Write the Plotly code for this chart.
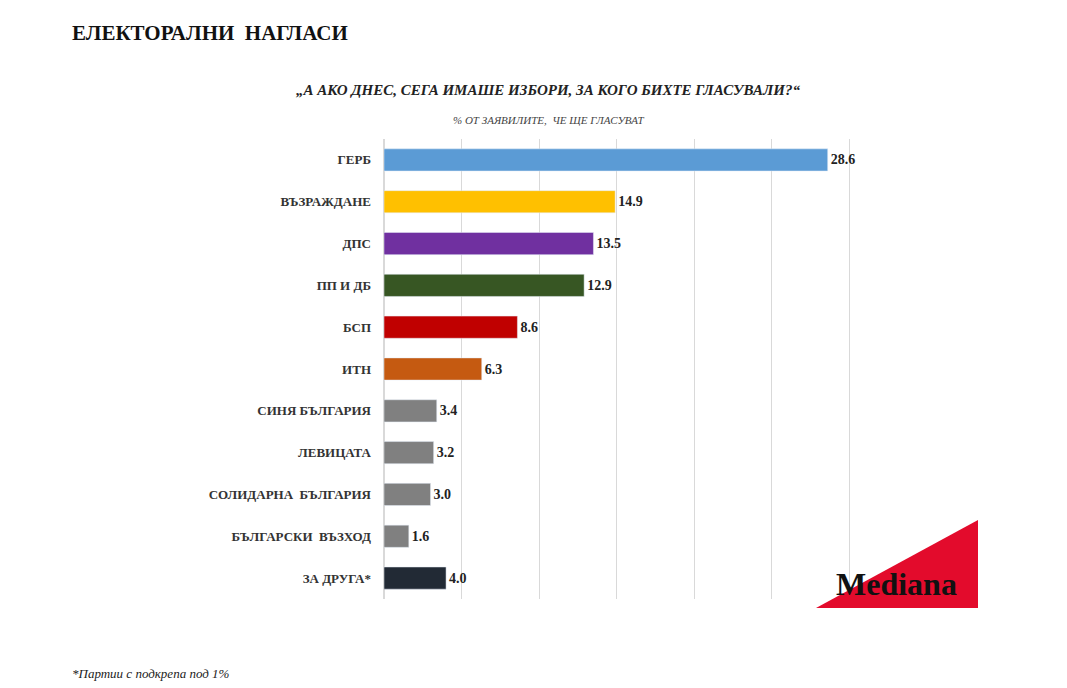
import plotly.graph_objects as go

parties = ["ГЕРБ", "ВЪЗРАЖДАНЕ", "ДПС", "ПП И ДБ", "БСП", "ИТН", "СИНЯ БЪЛГАРИЯ",
           "ЛЕВИЦАТА", "СОЛИДАРНА  БЪЛГАРИЯ", "БЪЛГАРСКИ  ВЪЗХОД", "ЗА ДРУГА*"]
values = [28.6, 14.9, 13.5, 12.9, 8.6, 6.3, 3.4, 3.2, 3.0, 1.6, 4.0]
colors = ["#5B9BD5", "#FFC000", "#7030A0", "#375623", "#C00000", "#C55A11",
          "#808080", "#808080", "#808080", "#808080", "#222A35"]

W, H = 1067, 688
L, R, T, B = 376, 919, 131, 591

def px_x(x):
    return (x - L) / (R - L)

def px_y(y):
    return (B - y) / (B - T)

fig = go.Figure(go.Bar(
    y=parties, x=values, orientation="h", marker_color=colors,
    text=[f"<b>{v:.1f}</b>" for v in values], textposition="outside", cliponaxis=False,
    textfont=dict(family="Liberation Serif", size=14, color="#222"),
))

fig.update_layout(
    width=W, height=H, plot_bgcolor="white", paper_bgcolor="white",
    margin=dict(l=L, r=W - R, t=T, b=H - B),
    showlegend=False, bargap=0.47,
    font=dict(family="Liberation Serif", color="#222"),
    xaxis=dict(range=[0, 35], dtick=5, showticklabels=False, showgrid=True,
               gridcolor="#D9D9D9", zeroline=True, zerolinecolor="#D9D9D9", fixedrange=True),
    yaxis=dict(autorange="reversed", tickfont=dict(size=13, family="Liberation Serif", color="#333"),
               tickvals=parties, ticktext=[f"<b>{p}</b>" for p in parties],
               ticklabelstandoff=12, showline=False),
)

fig.add_shape(type="path", xref="paper", yref="paper",
              path=f"M {px_x(808)} {px_y(600)} L {px_x(970)} {px_y(512)} L {px_x(970)} {px_y(600)} Z",
              fillcolor="#E30B2C", line_width=0, layer="above")

anns = [
    dict(text="<b>ЕЛЕКТОРАЛНИ  НАГЛАСИ</b>", x=px_x(62), y=px_y(25), xanchor="left",
         font=dict(size=21, color="#111")),
    dict(text="<b><i>„А АКО ДНЕС, СЕГА ИМАШЕ ИЗБОРИ, ЗА КОГО БИХТЕ ГЛАСУВАЛИ?“</i></b>",
         x=px_x(540), y=px_y(82), xanchor="center", font=dict(size=15, color="#222")),
    dict(text="<i>% ОТ ЗАЯВИЛИТЕ,  ЧЕ ЩЕ ГЛАСУВАТ</i>", x=px_x(540), y=px_y(112),
         xanchor="center", font=dict(size=11, color="#444")),
    dict(text="<i>*Партии с подкрепа под 1%</i>", x=px_x(62), y=px_y(665), xanchor="left",
         font=dict(size=13, color="#222")),
    dict(text="<b>Mediana</b>", x=px_x(888), y=px_y(576), xanchor="center",
         font=dict(size=32, color="#111", family="Liberation Serif")),
]
for a in anns:
    a.update(xref="paper", yref="paper", showarrow=False, yanchor="middle")
    fig.add_annotation(**a)

fig.write_html("out.html")
